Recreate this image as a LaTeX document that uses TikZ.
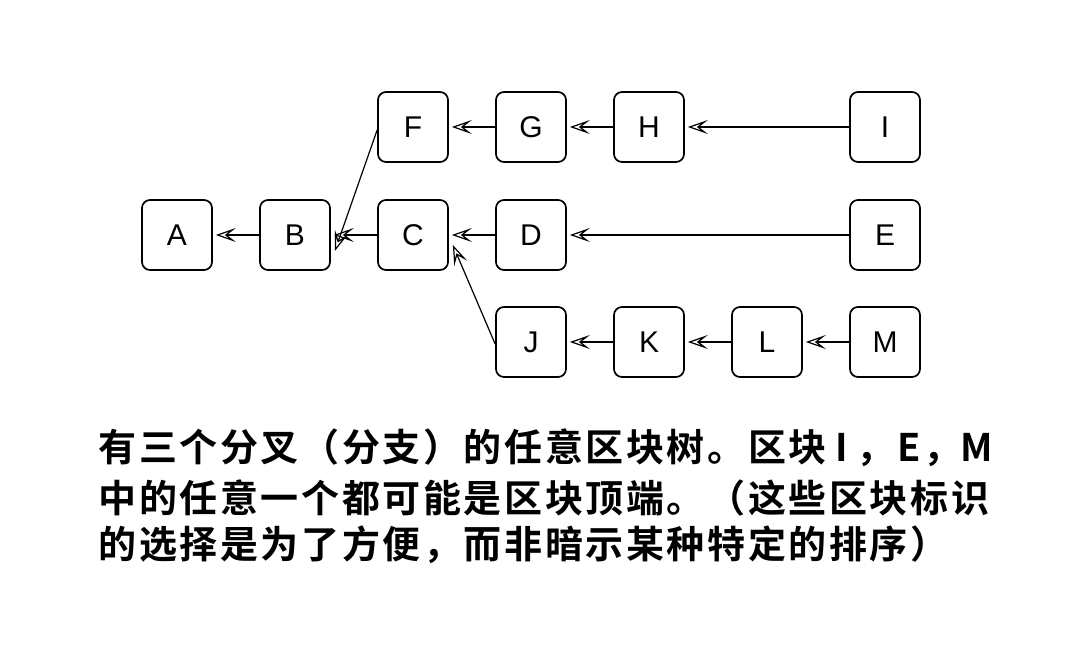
\documentclass[tikz,border=0pt]{standalone}
\usepackage{fontspec}
\setmainfont{Liberation Sans}
\newfontfamily\cjk{Noto Sans CJK SC Bold}
\usetikzlibrary{arrows.meta}
\tikzset{
  blk/.style={draw=black, line width=1.7pt, rounded corners=8pt, minimum width=70pt, minimum height=70pt, inner sep=0pt, font=\fontsize{30}{32}\selectfont},
  lnk/.style={draw=black, line width=1.2pt, -{Stealth[open,length=20pt,width=14pt,inset=9pt]}},
  captxt/.style={anchor=west, inner sep=0pt, font=\cjk\fontsize{38}{40}\selectfont}
}
\def\spr#1{\ifx#1\relax\else\makebox[40.6pt]{#1}\expandafter\spr\fi}
\newcommand{\lt}[1]{\makebox[27pt]{#1}}
\begin{document}
\begin{tikzpicture}[x=1pt,y=-1pt]
\useasboundingbox (0,0) rectangle (1080,671);
\node[blk] (A) at (177,235) {A};
\node[blk] (B) at (295,235) {B};
\node[blk] (C) at (413,235) {C};
\node[blk] (D) at (531,235) {D};
\node[blk] (E) at (885,235) {E};
\node[blk] (F) at (413,127) {F};
\node[blk] (G) at (531,127) {G};
\node[blk] (H) at (649,127) {H};
\node[blk] (I) at (885,127) {I};
\node[blk] (J) at (531,342) {J};
\node[blk] (K) at (649,342) {K};
\node[blk] (L) at (767,342) {L};
\node[blk] (M) at (885,342) {M};
\draw[lnk] (B.west) -- ([xshift=3pt]A.east);
\draw[lnk] (C.west) -- ([xshift=3pt]B.east);
\draw[lnk] (D.west) -- ([xshift=3pt]C.east);
\draw[lnk] (E.west) -- ([xshift=3pt]D.east);
\draw[lnk] (G.west) -- ([xshift=3pt]F.east);
\draw[lnk] (H.west) -- ([xshift=3pt]G.east);
\draw[lnk] (I.west) -- ([xshift=3pt]H.east);
\draw[lnk] (K.west) -- ([xshift=3pt]J.east);
\draw[lnk] (L.west) -- ([xshift=3pt]K.east);
\draw[lnk] (M.west) -- ([xshift=3pt]L.east);
\draw[lnk] ([yshift=-3pt]F.west) -- ([xshift=4pt,yshift=-16pt]B.east);
\draw[lnk] ([yshift=-2pt]J.west) -- ([xshift=4pt,yshift=-10pt]C.east);
\node[captxt] (t1) at (97,448) {\spr 有三个分叉（分支）的任意区块树。区块\relax\lt{I}\spr，\relax\lt{E}\spr，\relax\lt{M}};
\node[captxt] (t2) at (97,498) {\spr 中的任意一个都可能是区块顶端。（这些区块标识\relax};
\node[captxt] (t3) at (97,545) {\spr 的选择是为了方便，而非暗示某种特定的排序）\relax};
\end{tikzpicture}
\end{document}
